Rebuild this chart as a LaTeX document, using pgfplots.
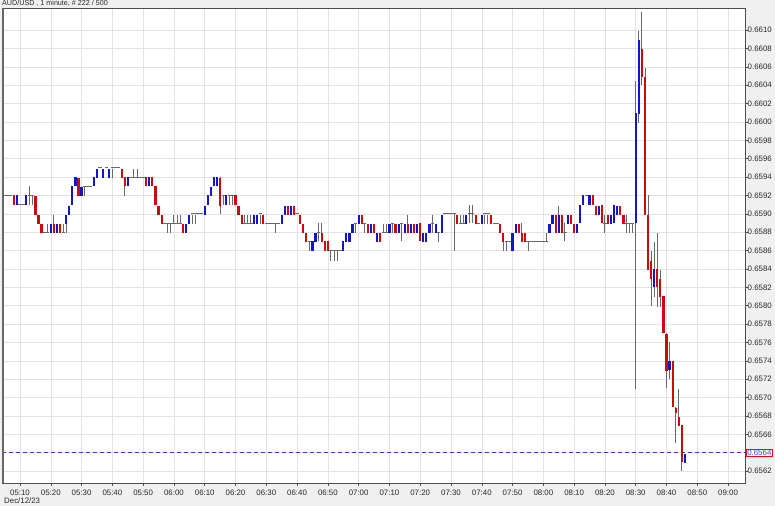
\documentclass[border=0pt]{standalone}
\usepackage{fontspec}
\setmainfont{Liberation Sans}
\usepackage{pgfplots}
\pgfplotsset{compat=1.18}
\usepackage{pgfplotstable}
\definecolor{bggray}{RGB}{240,240,240}
\definecolor{gridgray}{RGB}{226,226,226}
\definecolor{upblue}{RGB}{20,20,200}
\definecolor{downred}{RGB}{205,10,10}
\definecolor{wick}{RGB}{105,105,105}
\definecolor{dashblue}{RGB}{60,60,225}
\definecolor{txt}{RGB}{40,40,40}
\newcommand{\tickfont}{\fontsize{7.9}{9}\selectfont}

\pgfplotstableread{
t o h l c
5 0.6592 0.6592 0.6592 0.6592
6 0.6592 0.6592 0.6592 0.6592
7 0.6592 0.6592 0.6592 0.6592
8 0.6592 0.6592 0.6591 0.6591
9 0.6591 0.6592 0.6591 0.6592
10 0.6591 0.6591 0.6591 0.6591
11 0.6591 0.6591 0.6591 0.6591
12 0.6591 0.6592 0.6591 0.6592
13 0.6592 0.6593 0.6591 0.6592
14 0.6592 0.6592 0.6591 0.6592
15 0.6592 0.6592 0.6590 0.6590
16 0.6590 0.6590 0.6589 0.6589
17 0.6589 0.6589 0.6588 0.6588
18 0.6588 0.6588 0.6588 0.6588
19 0.6588 0.6589 0.6588 0.6588
20 0.6588 0.6589 0.6588 0.6589
21 0.6589 0.6590 0.6588 0.6588
22 0.6588 0.6589 0.6588 0.6589
23 0.6589 0.6589 0.6588 0.6588
24 0.6588 0.6589 0.6588 0.6588
25 0.6589 0.6590 0.6588 0.6590
26 0.6590 0.6591 0.6590 0.6591
27 0.6591 0.6593 0.6591 0.6593
28 0.6593 0.6594 0.6593 0.6594
29 0.6594 0.6594 0.6592 0.6592
30 0.6592 0.6593 0.6592 0.6593
31 0.6593 0.6593 0.6592 0.6593
32 0.6593 0.6593 0.6593 0.6593
33 0.6593 0.6593 0.6593 0.6593
34 0.6593 0.6594 0.6593 0.6594
35 0.6594 0.6595 0.6594 0.6595
36 0.6595 0.6595 0.6595 0.6595
37 0.6594 0.6595 0.6594 0.6595
38 0.6595 0.6595 0.6595 0.6595
39 0.6594 0.6595 0.6594 0.6595
40 0.6595 0.6595 0.6594 0.6595
41 0.6595 0.6595 0.6595 0.6595
42 0.6595 0.6595 0.6595 0.6595
43 0.6595 0.6595 0.6594 0.6594
44 0.6594 0.6594 0.6592 0.6593
45 0.6593 0.6594 0.6593 0.6594
46 0.6594 0.6594 0.6594 0.6594
47 0.6594 0.6595 0.6594 0.6594
48 0.6594 0.6595 0.6594 0.6594
49 0.6594 0.6594 0.6594 0.6594
50 0.6594 0.6594 0.6594 0.6594
51 0.6594 0.6594 0.6593 0.6593
52 0.6593 0.6594 0.6593 0.6594
53 0.6594 0.6594 0.6593 0.6593
54 0.6593 0.6593 0.6591 0.6591
55 0.6591 0.6591 0.6590 0.6590
56 0.6590 0.6590 0.6589 0.6589
57 0.6589 0.6589 0.6589 0.6589
58 0.6589 0.6589 0.6588 0.6589
59 0.6589 0.6589 0.6588 0.6589
60 0.6589 0.6590 0.6589 0.6589
61 0.6589 0.6590 0.6589 0.6589
62 0.6589 0.6590 0.6589 0.6589
63 0.6589 0.6589 0.6588 0.6588
64 0.6588 0.6589 0.6588 0.6589
65 0.6589 0.6590 0.6589 0.6590
66 0.6590 0.6590 0.6589 0.6590
67 0.6590 0.6590 0.6589 0.6590
68 0.6590 0.6590 0.6590 0.6590
69 0.6590 0.6590 0.6590 0.6590
70 0.6590 0.6591 0.6590 0.6591
71 0.6591 0.6592 0.6591 0.6592
72 0.6592 0.6593 0.6592 0.6593
73 0.6593 0.6594 0.6593 0.6594
74 0.6593 0.6594 0.6593 0.6594
75 0.6594 0.6594 0.6590 0.6591
76 0.6592 0.6592 0.6591 0.6592
77 0.6591 0.6592 0.6591 0.6592
78 0.6592 0.6592 0.6591 0.6592
79 0.6592 0.6592 0.6591 0.6592
80 0.6592 0.6592 0.6591 0.6591
81 0.6591 0.6591 0.6590 0.6590
82 0.6590 0.6590 0.6589 0.6589
83 0.6589 0.6590 0.6589 0.6589
84 0.6589 0.6590 0.6589 0.6589
85 0.6589 0.6590 0.6589 0.6589
86 0.6589 0.6590 0.6589 0.6590
87 0.6589 0.6590 0.6589 0.6590
88 0.6590 0.6590 0.6589 0.6590
89 0.6590 0.6590 0.6589 0.6589
90 0.6589 0.6589 0.6589 0.6589
91 0.6589 0.6589 0.6589 0.6589
92 0.6589 0.6589 0.6589 0.6589
93 0.6589 0.6589 0.6588 0.6589
94 0.6589 0.6589 0.6589 0.6589
95 0.6589 0.6590 0.6589 0.6590
96 0.6590 0.6591 0.6590 0.6591
97 0.6591 0.6591 0.6590 0.6590
98 0.6590 0.6591 0.6590 0.6591
99 0.6591 0.6591 0.6590 0.6590
100 0.6590 0.6590 0.6590 0.6590
101 0.6590 0.6590 0.6589 0.6589
102 0.6589 0.6589 0.6588 0.6588
103 0.6588 0.6588 0.6587 0.6587
104 0.6587 0.6587 0.6586 0.6587
105 0.6586 0.6587 0.6586 0.6587
106 0.6587 0.6588 0.6587 0.6588
107 0.6588 0.6589 0.6587 0.6588
108 0.6588 0.6589 0.6587 0.6587
109 0.6587 0.6587 0.6586 0.6586
110 0.6587 0.6587 0.6586 0.6586
111 0.6586 0.6586 0.6585 0.6586
112 0.6586 0.6586 0.6585 0.6586
113 0.6586 0.6586 0.6585 0.6586
114 0.6586 0.6586 0.6586 0.6586
115 0.6586 0.6587 0.6586 0.6587
116 0.6587 0.6588 0.6587 0.6588
117 0.6587 0.6588 0.6587 0.6588
118 0.6588 0.6589 0.6588 0.6589
119 0.6589 0.6589 0.6588 0.6589
120 0.6589 0.6590 0.6589 0.6590
121 0.6590 0.6590 0.6589 0.6589
122 0.6589 0.6589 0.6588 0.6589
123 0.6589 0.6589 0.6588 0.6588
124 0.6588 0.6589 0.6588 0.6589
125 0.6589 0.6589 0.6588 0.6588
126 0.6587 0.6588 0.6587 0.6588
127 0.6588 0.6588 0.6587 0.6587
128 0.6588 0.6589 0.6588 0.6588
129 0.6588 0.6589 0.6588 0.6588
130 0.6588 0.6589 0.6588 0.6589
131 0.6589 0.6589 0.6588 0.6589
132 0.6589 0.6589 0.6588 0.6588
133 0.6588 0.6589 0.6588 0.6589
134 0.6589 0.6589 0.6587 0.6589
135 0.6588 0.6589 0.6588 0.6589
136 0.6589 0.6590 0.6588 0.6588
137 0.6588 0.6589 0.6588 0.6589
138 0.6589 0.6589 0.6588 0.6588
139 0.6588 0.6589 0.6588 0.6589
140 0.6589 0.6589 0.6587 0.6587
141 0.6587 0.6588 0.6587 0.6588
142 0.6587 0.6588 0.6587 0.6588
143 0.6588 0.6589 0.6588 0.6589
144 0.6589 0.6590 0.6588 0.6589
145 0.6588 0.6589 0.6588 0.6589
146 0.6588 0.6588 0.6587 0.6588
147 0.6588 0.6590 0.6588 0.6590
148 0.6590 0.6590 0.6590 0.6590
149 0.6590 0.6590 0.6590 0.6590
150 0.6590 0.6590 0.6590 0.6590
151 0.6590 0.6590 0.6586 0.6590
152 0.6590 0.6590 0.6589 0.6589
153 0.6589 0.6590 0.6589 0.6589
154 0.6589 0.6590 0.6589 0.6589
155 0.6589 0.6590 0.6589 0.6590
156 0.6590 0.6591 0.6589 0.6590
157 0.6590 0.6591 0.6589 0.6590
158 0.6590 0.6590 0.6589 0.6589
159 0.6589 0.6589 0.6589 0.6589
160 0.6589 0.6590 0.6589 0.6590
161 0.6590 0.6590 0.6589 0.6590
162 0.6590 0.6590 0.6589 0.6590
163 0.6590 0.6590 0.6589 0.6589
164 0.6589 0.6589 0.6589 0.6589
165 0.6589 0.6589 0.6589 0.6589
166 0.6589 0.6589 0.6588 0.6588
167 0.6588 0.6588 0.6586 0.6587
168 0.6587 0.6587 0.6586 0.6587
169 0.6587 0.6587 0.6587 0.6587
170 0.6586 0.6588 0.6586 0.6588
171 0.6588 0.6589 0.6588 0.6589
172 0.6589 0.6589 0.6588 0.6588
173 0.6588 0.6589 0.6587 0.6587
174 0.6588 0.6588 0.6587 0.6587
175 0.6587 0.6587 0.6586 0.6587
176 0.6587 0.6587 0.6587 0.6587
177 0.6587 0.6587 0.6587 0.6587
178 0.6587 0.6587 0.6587 0.6587
179 0.6587 0.6587 0.6587 0.6587
180 0.6587 0.6587 0.6587 0.6587
181 0.6587 0.6588 0.6587 0.6587
182 0.6588 0.6589 0.6588 0.6589
183 0.6589 0.6590 0.6589 0.6590
184 0.6590 0.6590 0.6588 0.6588
185 0.6588 0.6591 0.6588 0.6590
186 0.6590 0.6590 0.6588 0.6588
187 0.6588 0.6589 0.6587 0.6588
188 0.6589 0.6590 0.6589 0.6590
189 0.6590 0.6590 0.6589 0.6589
190 0.6589 0.6589 0.6588 0.6588
191 0.6588 0.6589 0.6588 0.6589
192 0.6589 0.6591 0.6589 0.6591
193 0.6591 0.6592 0.6591 0.6592
194 0.6592 0.6592 0.6592 0.6592
195 0.6591 0.6592 0.6591 0.6592
196 0.6592 0.6592 0.6591 0.6591
197 0.6591 0.6591 0.6590 0.6590
198 0.6590 0.6591 0.6590 0.6591
199 0.6591 0.6591 0.6589 0.6589
200 0.6589 0.6590 0.6588 0.6589
201 0.6590 0.6590 0.6589 0.6589
202 0.6589 0.6590 0.6589 0.6590
203 0.6589 0.6591 0.6589 0.6591
204 0.6590 0.6591 0.6590 0.6591
205 0.6591 0.6591 0.6590 0.6590
206 0.6590 0.6590 0.6589 0.6589
207 0.6589 0.6590 0.6588 0.6589
208 0.6589 0.6589 0.6588 0.6589
209 0.6589 0.6589 0.6588 0.6589
210 0.6589 0.66045 0.6571 0.6601
211 0.6601 0.6610 0.6600 0.6609
212 0.6608 0.6612 0.6604 0.6605
213 0.6605 0.6606 0.6590 0.6590
214 0.6590 0.6592 0.6584 0.6584
215 0.6585 0.6586 0.6580 0.6583
216 0.6582 0.6587 0.6581 0.6584
217 0.6584 0.6588 0.6580 0.6582
218 0.6583 0.6584 0.6580 0.6581
219 0.6581 0.6581 0.6577 0.6577
220 0.6577 0.6577 0.6571 0.6573
221 0.6573 0.6576 0.6572 0.6574
222 0.6574 0.6574 0.6569 0.6569
223 0.6569 0.6569 0.6565 0.65685
224 0.6568 0.6571 0.6567 0.6567
225 0.6567 0.6567 0.6562 0.6563
226 0.6563 0.6564 0.6563 0.6564
}\candles

\begin{document}
\begin{tikzpicture}
\useasboundingbox (0,0) rectangle (775bp,506bp);
\fill[bggray] (0,0) rectangle (775bp,506bp);
\begin{axis}[
  at={(2bp,23bp)}, anchor=south west,
  scale only axis, width=743bp, height=475bp,
  xmin=4.15, xmax=245.5, ymin=0.65607, ymax=0.66124,
  axis background/.style={fill=white},
  axis line style={black!70, line width=0.8bp},
  xtick={10,20,...,240},
  xticklabels={05:10,05:20,05:30,05:40,05:50,06:00,06:10,06:20,06:30,06:40,06:50,07:00,07:10,07:20,07:30,07:40,07:50,08:00,08:10,08:20,08:30,08:40,08:50,09:00},
  ytick={0.6562,0.6566,0.6568,0.6570,0.6572,0.6574,0.6576,0.6578,0.6580,0.6582,0.6584,0.6586,0.6588,0.6590,0.6592,0.6594,0.6596,0.6598,0.6600,0.6602,0.6604,0.6606,0.6608,0.6610},
  extra y ticks={0.6564},
  extra y tick style={yticklabel style={draw=red, line width=0.6bp, text=dashblue, fill=white, inner sep=1bp, xshift=-1.5bp}},
  grid=major, major grid style={gridgray, line width=0.5bp},
  tick align=outside, major tick length=3bp,
  tick style={black!70, line width=0.5bp},
  xtick pos=left, ytick pos=right, yticklabel pos=right,
  ticklabel style={font=\tickfont, text=txt},
  yticklabel style={anchor=west, inner sep=0pt, xshift=-0.5bp,
    /pgf/number format/fixed, /pgf/number format/fixed zerofill,
    /pgf/number format/precision=4, /pgf/number format/assume math mode=true},
  xticklabel style={anchor=north, inner sep=0pt, yshift=-4bp},
  clip=true,
]
\addplot[dashblue, line width=0.8bp, dash pattern=on 4bp off 3bp] coordinates {(4.15,0.6564) (245.5,0.6564)};
% wicks
\addplot[draw=none, mark=none, error bars/.cd, y dir=both, y explicit, error mark=none,
  error bar style={draw=wick, line width=0.9bp, solid}]
  table[x=t, y expr={(\thisrow{h}+\thisrow{l})/2}, y error expr={(\thisrow{h}-\thisrow{l})/2}] {\candles};
% up bodies
\addplot[draw=none, mark=none, restrict expr to domain={\thisrow{c}-\thisrow{o}}{0.00002:1},
  error bars/.cd, y dir=both, y explicit, error mark=none,
  error bar style={draw=upblue, line width=2.2bp, solid}]
  table[x=t, y expr={(\thisrow{o}+\thisrow{c})/2}, y error expr={(\thisrow{c}-\thisrow{o})/2}] {\candles};
% down bodies
\addplot[draw=none, mark=none, restrict expr to domain={\thisrow{o}-\thisrow{c}}{0.00002:1},
  error bars/.cd, y dir=both, y explicit, error mark=none,
  error bar style={draw=downred, line width=2.2bp, solid}]
  table[x=t, y expr={(\thisrow{o}+\thisrow{c})/2}, y error expr={(\thisrow{o}-\thisrow{c})/2}] {\candles};
% doji
\addplot[only marks, mark=-, mark size=1.6bp, mark options={draw=wick, line width=0.9bp},
  restrict expr to domain={abs(\thisrow{c}-\thisrow{o})}{0:0.00002}]
  table[x=t, y=c] {\candles};
\end{axis}
\draw[black!60, line width=1.6bp] (2.8bp,23bp) -- (2.8bp,498bp);
\node[anchor=west, inner sep=0pt, font=\fontsize{7.2}{8}\selectfont, text=txt] at (2bp,502.5bp) {AUD/USD , 1 minute, \# 222 / 500};
\node[anchor=west, inner sep=0pt, font=\tickfont, text=txt] at (4bp,5bp) {Dec/12/23};
\end{tikzpicture}
\end{document}
